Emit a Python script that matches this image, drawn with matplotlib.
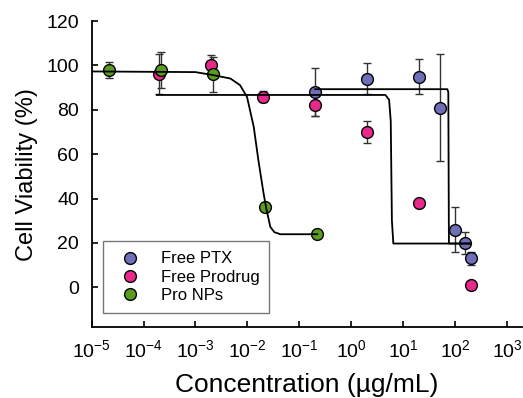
import matplotlib
matplotlib.use("Agg")
from matplotlib import pyplot as plt

plt.rcParams['font.family'] = ['Liberation Sans', 'DejaVu Sans']
plt.rcParams['axes.unicode_minus'] = False

# measured points (concentration in ug/mL, viability in %)
ptx_conc = [0.2, 2, 20, 50, 100, 150, 200]
ptx_viab = [88, 94, 95, 81, 26, 20, 13]
ptx_err = [11, 7, 8, 24, 10, 5, 3]

prodrug_conc = [2e-4, 2e-3, 0.02, 0.2, 2, 20, 200]
prodrug_viab = [96, 100, 86, 82, 70, 38, 1]
prodrug_err = [9, 4.5, 2.5, 5, 5, 0, 0]

nps_conc = [2.2e-5, 2.2e-4, 2.2e-3, 0.022, 0.22]
nps_viab = [98, 98, 96, 36, 24]
nps_err = [3.5, 8, 8, 0, 0]

# fitted curves, vertices
ptx_fit_x = [0.2, 70, 73, 75, 200]
ptx_fit_y = [89.3, 89.3, 88, 19.7, 19.7]

prodrug_fit_x = [1.8e-4, 4.5, 5.3, 5.7, 6.0, 6.4, 200]
prodrug_fit_y = [86.7, 86.7, 84.5, 75, 30, 19.7, 19.7]

nps_fit_x = [1e-5, 1e-3, 2.24e-3, 4.7e-3, 7.2e-3, 9.8e-3, 1.32e-2, 1.62e-2,
             2.04e-2, 2.29e-2, 2.75e-2, 3.3e-2, 4.3e-2, 0.22]
nps_fit_y = [97.3, 97.0, 95.6, 94.1, 91.1, 85.8, 72.3, 57.3,
             42.3, 35.8, 27.2, 24.8, 23.9, 23.9]

labels = ['Free PTX', 'Free Prodrug', 'Pro NPs']
colors = ['#6f6fb8', '#e8288a', '#5a9c1e']

fig = plt.figure(figsize=(5.23, 3.98), dpi=100)
ax = fig.add_axes([0.175, 0.178, 0.823, 0.769])

series = [(ptx_conc, ptx_viab, ptx_err),
          (prodrug_conc, prodrug_viab, prodrug_err),
          (nps_conc, nps_viab, nps_err)]

for (x, y, e), lab, col in zip(series, labels, colors):
    ax.errorbar(x, y, yerr=e, fmt='none', ecolor='#333333', elinewidth=1,
                capsize=3, capthick=1, zorder=2)
    ax.plot(x, y, 'o', color=col, markeredgecolor='black', markeredgewidth=1,
            markersize=8.5, label=lab, zorder=3, linestyle='none')

for fx, fy in [(ptx_fit_x, ptx_fit_y), (prodrug_fit_x, prodrug_fit_y), (nps_fit_x, nps_fit_y)]:
    ax.plot(fx, fy, color='black', linewidth=1.3, zorder=4)

ax.set_xscale('log')
ax.set_xlim(1e-5, 10 ** 3.28)
ax.set_ylim(-18, 120)
ax.set_xticks([10.0 ** k for k in range(-5, 4)])
ax.minorticks_off()
ax.set_yticks([0, 20, 40, 60, 80, 100, 120])

ax.spines['top'].set_visible(False)
ax.spines['right'].set_visible(False)
ax.spines['left'].set_linewidth(1.3)
ax.spines['bottom'].set_linewidth(1.3)
ax.tick_params(direction='in', length=4, width=1.2, labelsize=14, colors='black')
ax.tick_params(axis='x', pad=9)
ax.tick_params(axis='y', pad=9)

ax.set_xlabel('Concentration (µg/mL)', fontsize=19, labelpad=8)
ax.set_ylabel('Cell Viability (%)', fontsize=17, labelpad=6)

leg = ax.legend(loc='lower left', bbox_to_anchor=(0.027, 0.046), borderaxespad=0,
                fontsize=12, frameon=True, fancybox=False, edgecolor='#555555',
                handlelength=2.0, handletextpad=0.85, borderpad=0.6, labelspacing=0.2)
leg.get_frame().set_linewidth(1)

plt.savefig('out.png', dpi=100)
